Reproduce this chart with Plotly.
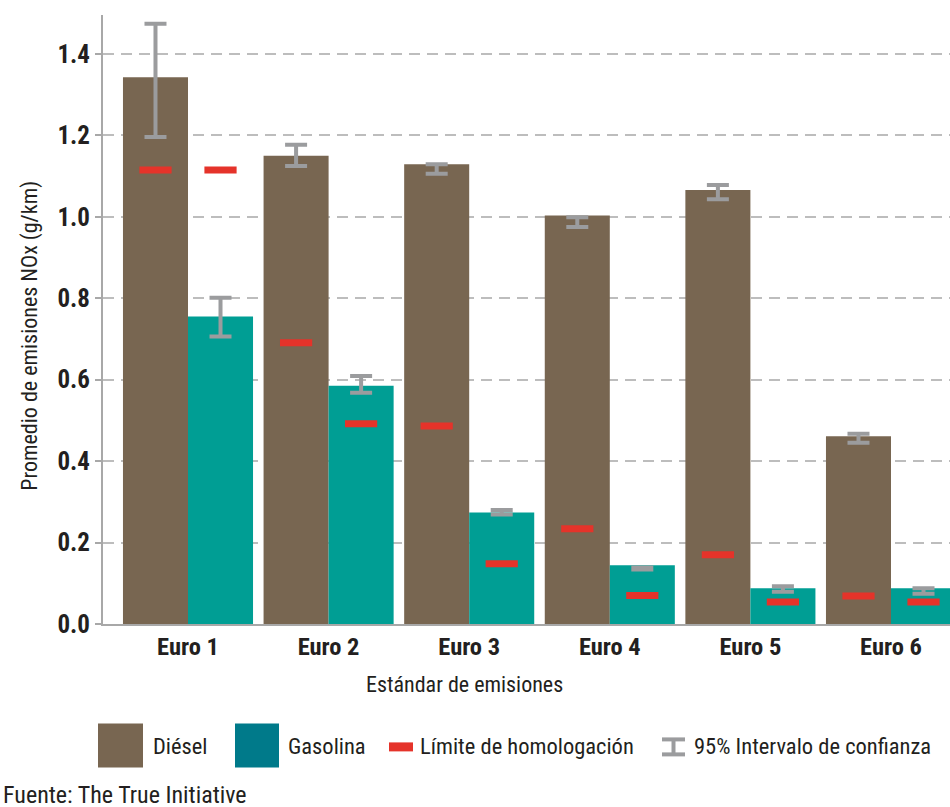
import plotly.graph_objects as go

# ---------------- data ----------------
categories = ["Euro 1", "Euro 2", "Euro 3", "Euro 4", "Euro 5", "Euro 6"]
diesel = [1.343, 1.150, 1.129, 1.003, 1.066, 0.461]
gasolina = [0.755, 0.585, 0.274, 0.144, 0.088, 0.088]
diesel_ci_low = [1.196, 1.125, 1.106, 0.975, 1.043, 0.445]
diesel_ci_high = [1.474, 1.177, 1.129, 0.999, 1.078, 0.467]
gas_ci_low = [0.706, 0.568, 0.269, 0.134, 0.079, 0.074]
gas_ci_high = [0.801, 0.609, 0.280, 0.139, 0.093, 0.088]
diesel_limit = [1.115, 0.691, 0.486, 0.234, 0.170, 0.069]
gas_limit = [1.115, 0.492, 0.148, 0.070, 0.054, 0.054]
y_ticks = [0.0, 0.2, 0.4, 0.6, 0.8, 1.0, 1.2, 1.4]
y_ticktext = ["0.0", "0.2", "0.4", "0.6", "0.8", "1.0", "1.2", "1.4"]

# ---------------- style ----------------
C_DIESEL = "#786651"
C_GAS = "#009E94"
C_GAS_LEGEND = "#007A8A"
C_LIMIT = "#E5332A"
C_CI = "#9B9C9E"
C_AXIS = "#A8A8A8"
C_GRID = "#BDBDBD"
C_TEXT = "#231F20"
FONT = "Roboto Condensed, Liberation Sans Narrow, DejaVu Sans Condensed, sans-serif"

W, H = 950, 807
ML, MR, MT = 103, 0, 15
Y0 = 624.5  # pixel of y = 0
MB = H - Y0
PW, PH = W - ML - MR, Y0 - MT


def px(x):
    return (x - ML) / PW


def py(y):
    return (Y0 - y) / PH


fig = go.Figure()

fig.add_trace(go.Bar(x=categories, y=diesel, name="Diésel", marker=dict(color=C_DIESEL, line=dict(width=0)),
                     offsetgroup="d", showlegend=False))
fig.add_trace(go.Bar(x=categories, y=gasolina, name="Gasolina", marker=dict(color=C_GAS, line=dict(width=0)),
                     offsetgroup="g", showlegend=False))

# confidence intervals (invisible centre point + symmetric error bar)
for lo, hi, og in [(diesel_ci_low, diesel_ci_high, "d"), (gas_ci_low, gas_ci_high, "g")]:
    mid = [(a + b) / 2 for a, b in zip(lo, hi)]
    half = [(b - a) / 2 for a, b in zip(lo, hi)]
    fig.add_trace(go.Scatter(x=categories, y=mid, mode="markers", offsetgroup=og,
                             marker=dict(size=1, color="rgba(0,0,0,0)"),
                             error_y=dict(type="data", array=half, symmetric=True, color=C_CI,
                                          thickness=4, width=11),
                             showlegend=False, hoverinfo="skip"))

# homologation limits
for lim, og in [(diesel_limit, "d"), (gas_limit, "g")]:
    fig.add_trace(go.Scatter(x=categories, y=lim, mode="markers", offsetgroup=og,
                             marker=dict(symbol="line-ew", size=23, color=C_LIMIT,
                                         line=dict(color=C_LIMIT, width=7)),
                             showlegend=False))

bargap = 0.075
cat_w = 140.6
first_c = 188
fig.update_layout(
    width=W, height=H,
    margin=dict(l=ML, r=MR, t=MT, b=MB, pad=0),
    paper_bgcolor="white", plot_bgcolor="white",
    barmode="group", bargap=bargap, bargroupgap=0,
    scattermode="group", scattergap=bargap,
    showlegend=False,
    font=dict(family=FONT, color=C_TEXT),
    xaxis=dict(
        type="category",
        range=[(ML - first_c) / cat_w, (W - MR - first_c) / cat_w],
        showline=True, linecolor=C_AXIS, linewidth=2,
        ticks="", showgrid=False, zeroline=False,
        tickfont=dict(family=FONT, size=24.5, color=C_TEXT, weight="bold"),
    ),
    yaxis=dict(
        range=[0, PH / 407.5],
        tickvals=y_ticks, ticktext=y_ticktext,
        showline=True, linecolor=C_AXIS, linewidth=2,
        ticks="outside", ticklen=6, tickwidth=2, tickcolor=C_AXIS,
        showgrid=True, gridcolor=C_GRID, gridwidth=2, griddash="11px,7px",
        zeroline=False,
        tickfont=dict(family=FONT, size=25, color=C_TEXT, weight="bold"),
    ),
)

ann = []
# axis titles
ann.append(dict(text="Promedio de emisiones NOx (g/km)", x=px(30), y=py(336), xref="paper", yref="paper",
                textangle=-90, showarrow=False, font=dict(family=FONT, size=22, color=C_TEXT),
                xanchor="center", yanchor="middle"))
ann.append(dict(text="Estándar de emisiones", x=px(464), y=py(685), xref="paper", yref="paper",
                showarrow=False, font=dict(family=FONT, size=22, color=C_TEXT),
                xanchor="center", yanchor="middle"))
# legend texts
for label, x0 in [("Diésel", 151), ("Gasolina", 286), ("Límite de homologación", 418),
                  ("95% Intervalo de confianza", 692)]:
    ann.append(dict(text=label, x=px(x0), y=py(747), xref="paper", yref="paper", showarrow=False,
                    font=dict(family=FONT, size=22.5, color=C_TEXT), xanchor="left", yanchor="middle"))
# source
ann.append(dict(text="Fuente: The True Initiative", x=px(1), y=py(780), xref="paper", yref="paper",
                showarrow=False, font=dict(family=FONT, size=24, color=C_TEXT),
                xanchor="left", yanchor="top"))
fig.update_layout(annotations=ann)

shapes = []


def rect(x0, y0, x1, y1, color):
    shapes.append(dict(type="rect", xref="paper", yref="paper", x0=px(x0), x1=px(x1), y0=py(y1), y1=py(y0),
                       fillcolor=color, line=dict(width=0), layer="above"))


rect(98, 724, 143, 768, C_DIESEL)
rect(235, 724, 279, 768, C_GAS_LEGEND)
rect(389, 743, 413, 752, C_LIMIT)
rect(662, 738, 685, 742, C_CI)
rect(662, 753, 685, 757, C_CI)
rect(671.5, 740, 675.5, 755, C_CI)
fig.update_layout(shapes=shapes)

fig.write_html("out.html", config={"displayModeBar": False},
               post_script="document.body.style.margin='0px';document.body.style.overflow='hidden';")
